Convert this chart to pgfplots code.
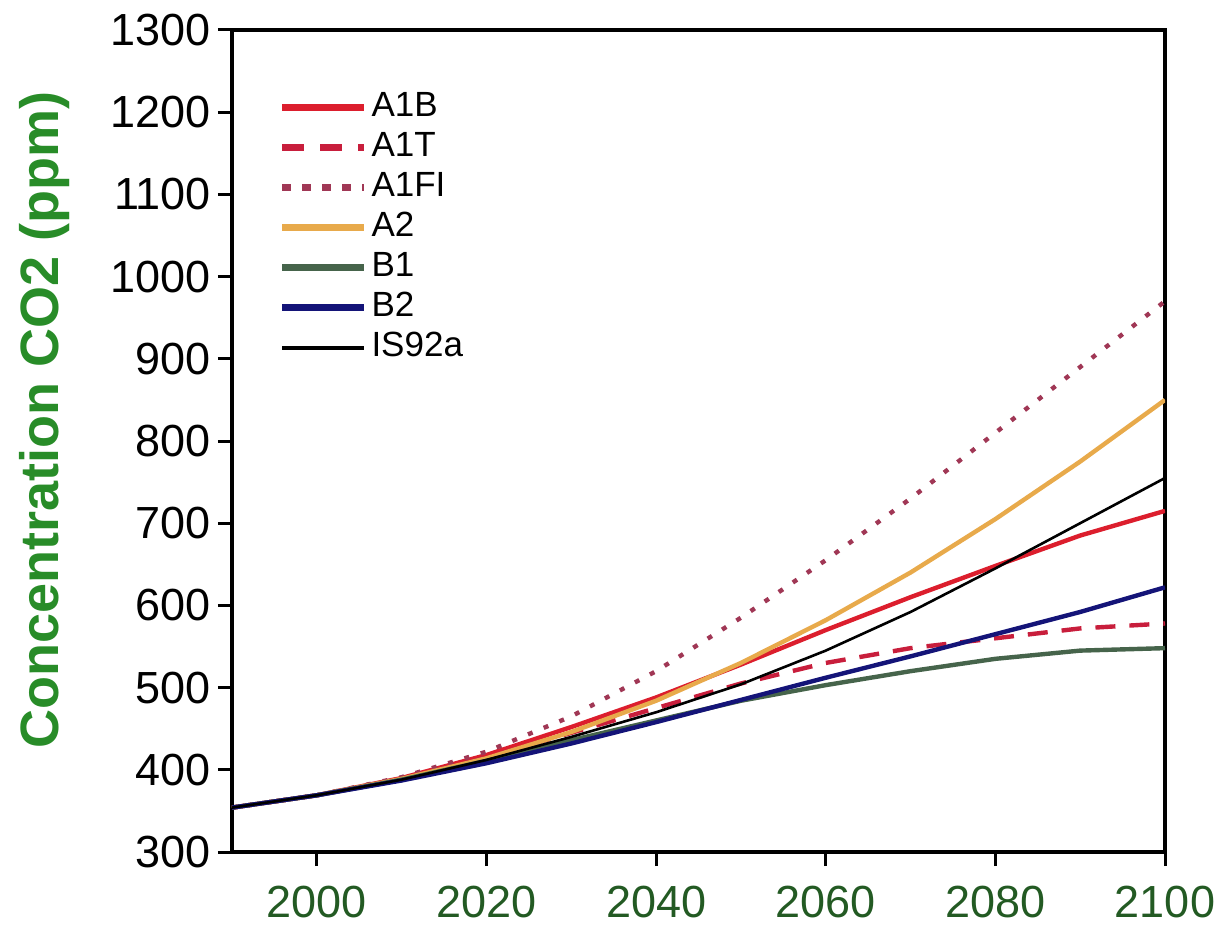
\documentclass[border=0pt]{standalone}
\usepackage{fontspec}
\setmainfont{Liberation Sans}
\usepackage{pgfplots}
\pgfplotsset{compat=1.18}
\definecolor{cA1B}{RGB}{220,30,45}
\definecolor{cA1T}{RGB}{200,30,60}
\definecolor{cA1FI}{RGB}{160,55,85}
\definecolor{cA2}{RGB}{232,170,75}
\definecolor{cB1}{RGB}{70,100,75}
\definecolor{cB2}{RGB}{20,20,120}
\definecolor{xgreen}{RGB}{35,90,35}
\definecolor{ygreen}{RGB}{40,140,40}
\begin{document}
\begin{tikzpicture}
\path[use as bounding box] (-116pt,-38pt) rectangle (494pt,426pt);
\begin{axis}[
  at={(0,0)}, anchor=south west,
  scale only axis, width=466.5pt, height=411pt,
  xmin=1990, xmax=2100, ymin=300, ymax=1300,
  xtick={2000,2020,...,2100}, ytick={300,400,...,1300},
  tick align=outside, xtick pos=bottom, ytick pos=left,
  major tick length=7pt,
  tick style={black, line width=1.5pt},
  axis line style={line width=1.8pt},
  /pgf/number format/assume math mode=true,
  /pgf/number format/1000 sep={},
  ticklabel style={font=\fontsize{22.5}{26}\selectfont},
  xticklabel style={text=xgreen, yshift=-6.5pt},
  ylabel={Concentration CO2 (ppm)},
  ylabel style={font=\fontsize{27}{32}\selectfont\bfseries, text=ygreen, at={(rel axis cs:-0.2004,0.525)}, anchor=center},
  legend cell align=left,
  legend style={at={(rel axis cs:0.043,0.935)}, anchor=north west, draw=none, fill=none,
    font=\fontsize{17.5}{20}\selectfont,
    nodes={inner sep=2pt, text height=12.5pt, text depth=3.5pt}, row sep=0pt},
  legend image code/.code={\draw[#1] (0pt,0pt) -- (32pt,0pt); \path (0pt,0pt) -- (41pt,0pt);},
]
\addplot[cA1B, line width=2.2pt, legend image post style={line width=3.5pt}] coordinates {
(1990,354) (2000,369) (2010,390) (2020,418) (2030,452) (2040,488) (2050,528) (2060,570) (2070,610) (2080,648) (2090,685) (2100,715)};
\addlegendentry{A1B}
\addplot[cA1T, line width=2.2pt, dash pattern=on 10pt off 7pt, legend image post style={line width=3.5pt, dash pattern=on 11pt off 8pt}] coordinates {
(1990,354) (2000,369) (2010,389) (2020,415) (2030,445) (2040,475) (2050,505) (2060,530) (2070,548) (2080,560) (2090,572) (2100,578)};
\addlegendentry{A1T}
\addplot[cA1FI, line width=2.2pt, dash pattern=on 2.5pt off 6pt, legend image post style={line width=3.5pt, dash pattern=on 4.5pt off 5.5pt}] coordinates {
(1990,354) (2000,369) (2010,391) (2020,422) (2030,465) (2040,520) (2050,585) (2060,655) (2070,730) (2080,810) (2090,890) (2100,970)};
\addlegendentry{A1FI}
\addplot[cA2, line width=2.2pt, legend image post style={line width=3.5pt}] coordinates {
(1990,354) (2000,369) (2010,389) (2020,414) (2030,446) (2040,484) (2050,530) (2060,582) (2070,640) (2080,705) (2090,775) (2100,850)};
\addlegendentry{A2}
\addplot[cB1, line width=2.2pt, legend image post style={line width=3.5pt}] coordinates {
(1990,354) (2000,369) (2010,388) (2020,411) (2030,436) (2040,460) (2050,484) (2060,503) (2070,520) (2080,535) (2090,545) (2100,548)};
\addlegendentry{B1}
\addplot[cB2, line width=2.2pt, legend image post style={line width=3.5pt}] coordinates {
(1990,354) (2000,369) (2010,387) (2020,408) (2030,432) (2040,458) (2050,485) (2060,512) (2070,538) (2080,565) (2090,592) (2100,622)};
\addlegendentry{B2}
\addplot[black, line width=1.3pt, legend image post style={line width=2pt}] coordinates {
(1990,354) (2000,369) (2010,388) (2020,412) (2030,440) (2040,470) (2050,504) (2060,545) (2070,592) (2080,645) (2090,700) (2100,755)};
\addlegendentry{IS92a}
\end{axis}
\end{tikzpicture}
\end{document}
